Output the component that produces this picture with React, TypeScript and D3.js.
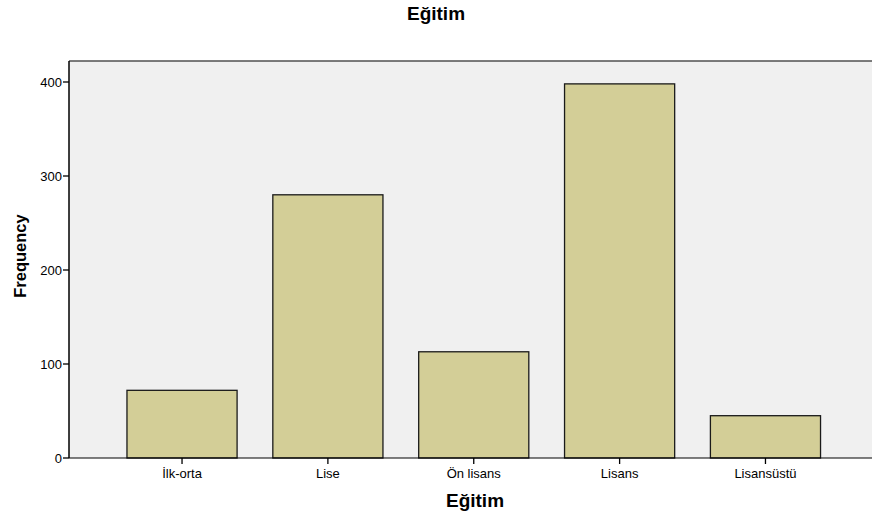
import React from "react";
import * as d3 from "d3";

const categories = ["İlk-orta", "Lise", "Ön lisans", "Lisans", "Lisansüstü"];
const frequencies = [72, 280, 113, 398, 45];
const yTicks = [0, 100, 200, 300, 400];

const W = 872;
const H = 516;
const plotLeft = 69;
const plotTop = 61;
const plotBottom = 458;

export default function App() {
  const x = d3
    .scaleBand<string>()
    .domain(categories)
    .range([109.1, 838.4])
    .paddingInner(0.245)
    .paddingOuter(0.1225);
  const y = d3.scaleLinear().domain([0, 400]).range([plotBottom, 82]);
  const font = "'Liberation Sans', Arial, sans-serif";

  return (
    <svg width={W} height={H} style={{ position: "absolute", left: 0, top: 0, background: "#fff" }}>
      <rect x={plotLeft} y={plotTop} width={W - plotLeft} height={plotBottom - plotTop} fill="#f0f0f0" />
      <line x1={plotLeft} x2={W} y1={plotTop} y2={plotTop} stroke="#505050" strokeWidth={1.5} />
      {categories.map((c, i) => (
        <rect
          key={c}
          x={x(c)}
          y={y(frequencies[i])}
          width={x.bandwidth()}
          height={plotBottom - y(frequencies[i])}
          fill="#d3ce97"
          stroke="#1a1a1a"
          strokeWidth={1.3}
        />
      ))}
      <line x1={plotLeft} x2={plotLeft} y1={plotTop} y2={plotBottom} stroke="#000" strokeWidth={1.5} />
      <line x1={plotLeft} x2={W} y1={plotBottom} y2={plotBottom} stroke="#000" strokeWidth={1.2} />
      {yTicks.map((t) => (
        <g key={t}>
          <line x1={plotLeft - 6} x2={plotLeft} y1={y(t)} y2={y(t)} stroke="#000" strokeWidth={1.3} />
          <text x={plotLeft - 7} y={y(t) + 4.5} textAnchor="end" fontFamily={font} fontSize={13} fill="#000">
            {t}
          </text>
        </g>
      ))}
      {categories.map((c) => {
        const cx = (x(c) as number) + x.bandwidth() / 2;
        return (
          <g key={c}>
            <line x1={cx} x2={cx} y1={plotBottom} y2={plotBottom + 6} stroke="#000" strokeWidth={1.3} />
            <text x={cx} y={plotBottom + 20} textAnchor="middle" fontFamily={font} fontSize={13} fill="#000">
              {c}
            </text>
          </g>
        );
      })}
      <text x={436} y={20} textAnchor="middle" fontFamily={font} fontSize={19} fontWeight="bold">
        Eğitim
      </text>
      <text x={475} y={507} textAnchor="middle" fontFamily={font} fontSize={19} fontWeight="bold">
        Eğitim
      </text>
      <text
        transform={`translate(26, ${256}) rotate(-90)`}
        textAnchor="middle"
        fontFamily={font}
        fontSize={16.5}
        fontWeight="bold"
      >
        Frequency
      </text>
    </svg>
  );
}
